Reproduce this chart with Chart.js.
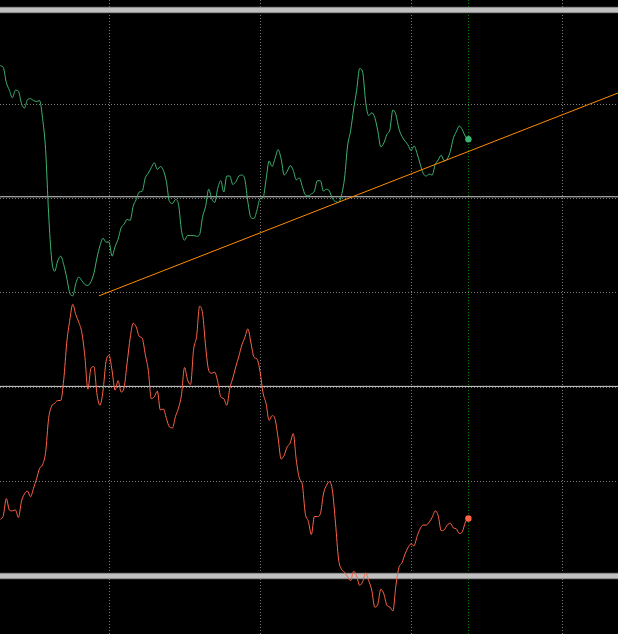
<!DOCTYPE html>
<html>
<head>
<meta charset="utf-8">
<script src="https://cdn.jsdelivr.net/npm/chart.js@4"></script>
<style>
    html, body { margin: 0; padding: 0; background: #000; }
    #wrap { width: 618px; height: 634px; }
</style>
</head>
<body>
<div id="wrap"><canvas id="chart"></canvas></div>
<script>
// ========================================
// DATA
// ========================================
const greenValues = [
    2.41, 2.39, 2.23, 2.15, 2.07, 2.15, 2.14, 2.01, 1.96, 2.05,
    2.06, 2.04, 2.03, 2.04, 1.85, 1.52, 0.84, 0.36, 0.23, 0.34,
    0.39, 0.30, 0.16, 0.00, -0.03, 0.10, 0.17, 0.13, 0.09, 0.08,
    0.12, 0.21, 0.37, 0.50, 0.58, 0.54, 0.54, 0.39, 0.49, 0.57,
    0.69, 0.73, 0.78, 0.77, 0.92, 0.99, 1.07, 1.08, 1.22, 1.27,
    1.33, 1.38, 1.31, 1.34, 1.30, 1.18, 0.97, 0.95, 0.99, 0.94,
    0.66, 0.56, 0.61, 0.61, 0.61, 0.60, 0.62, 0.81, 0.92, 1.10,
    1.00, 0.96, 1.11, 1.19, 1.07, 1.24, 1.24, 1.15, 1.18, 1.24,
    1.25, 1.20, 0.96, 0.80, 0.79, 0.88, 1.00, 1.01, 1.20, 1.40,
    1.34, 1.43, 1.52, 1.42, 1.25, 1.29, 1.35, 1.30, 1.20, 1.22,
    1.13, 1.04, 1.03, 1.05, 1.08, 1.19, 1.19, 1.08, 1.10, 1.08,
    1.00, 0.97, 0.96, 1.04, 1.22, 1.56, 1.72, 1.95, 2.15, 2.38,
    2.34, 2.02, 1.88, 1.91, 1.86, 1.72, 1.55, 1.59, 1.68, 1.73,
    1.94, 1.89, 1.74, 1.66, 1.61, 1.57, 1.51, 1.56, 1.48, 1.37,
    1.27, 1.24, 1.26, 1.25, 1.36, 1.41, 1.46, 1.40, 1.42, 1.50,
    1.64, 1.71, 1.77, 1.73, 1.66, 1.63
];

const redValues = [
    -2.40, -2.36, -2.18, -2.30, -2.31, -2.30, -2.38, -2.21, -2.13, -2.10,
    -2.16, -2.07, -1.97, -1.86, -1.82, -1.69, -1.33, -1.20, -1.17, -1.14,
    -1.14, -0.92, -0.53, -0.29, -0.12, -0.23, -0.31, -0.42, -0.67, -1.02,
    -0.80, -0.78, -1.07, -1.19, -1.04, -0.73, -0.66, -0.82, -1.03, -0.93,
    -1.05, -1.00, -0.74, -0.48, -0.32, -0.36, -0.46, -0.48, -0.65, -0.82,
    -1.12, -1.10, -1.04, -1.24, -1.23, -1.33, -1.42, -1.43, -1.31, -1.22,
    -1.08, -0.79, -0.92, -0.97, -0.60, -0.46, -0.14, -0.22, -0.57, -0.82,
    -0.85, -0.84, -0.94, -1.10, -1.12, -1.19, -1.01, -0.90, -0.78, -0.67,
    -0.55, -0.47, -0.38, -0.53, -0.68, -0.70, -0.83, -1.06, -1.17, -1.35,
    -1.30, -1.34, -1.54, -1.76, -1.72, -1.63, -1.59, -1.49, -1.77, -1.96,
    -2.03, -2.34, -2.42, -2.56, -2.37, -2.37, -2.34, -2.13, -2.04, -2.00,
    -2.10, -2.44, -2.82, -2.93, -2.96, -3.01, -3.05, -2.95, -3.00, -3.10,
    -3.06, -2.97, -3.05, -3.15, -3.33, -3.30, -3.14, -3.19, -3.31, -3.33,
    -3.37, -3.10, -2.91, -2.86, -2.77, -2.70, -2.66, -2.68, -2.58, -2.50,
    -2.46, -2.46, -2.43, -2.38, -2.31, -2.36, -2.52, -2.51, -2.46, -2.44,
    -2.49, -2.50, -2.55, -2.53, -2.43, -2.39
];

const levelsGray = [3, -3];
const levelsWhite = [1.02, -0.99];
const gridBars = [36, 86, 136, 186];
const gridLevels = [-3, -2, -1, 0, 1, 2, 3];
const trendStart = [32.7, -0.03];
const trendEnd = [204.54, 2.12];
const xRange = [-0.1, 204.54];
const yRange = [-3.615, 3.106];

// ========================================
// HELPERS
// ========================================
const lastBar = greenValues.length - 1;
const toPoints = arr => arr.map((v, i) => ({ x: i, y: v }));
const hLine = y => [{ x: xRange[0], y: y }, { x: xRange[1], y: y }];

function seriesDataset(values, color) {
    return {
        data: toPoints(values),
        borderColor: color,
        backgroundColor: color,
        borderWidth: 1,
        cubicInterpolationMode: 'monotone',
        pointRadius: ctx => ctx.dataIndex === lastBar ? 3.2 : 0,
        pointBorderWidth: 0,
        order: 1
    };
}

function levelDataset(y, color, width, order) {
    return {
        data: hLine(y),
        borderColor: color,
        borderWidth: width,
        pointRadius: 0,
        order: order
    };
}

const datasets = [
    {
        data: [{ x: trendStart[0], y: trendStart[1] }, { x: trendEnd[0], y: trendEnd[1] }],
        borderColor: '#FF8C00',
        borderWidth: 1,
        pointRadius: 0,
        order: 0
    },
    seriesDataset(greenValues, '#3CB371'),
    seriesDataset(redValues, '#FF6347')
];

levelsWhite.forEach(v => datasets.push(levelDataset(v, '#d4d4d4', 1, 5)));
levelsGray.forEach(v => {
    datasets.push(levelDataset(v, '#c0c0c0', 5, 6));
    datasets.push(levelDataset(v, '#5e5e5e', 6.5, 7));
});

// ========================================
// CHART
// ========================================
new Chart(document.getElementById('chart'), {
    type: 'line',
    data: { datasets: datasets },
    options: {
        responsive: true,
        maintainAspectRatio: false,
        animation: false,
        layout: { padding: 0, autoPadding: false },
        plugins: {
            legend: { display: false },
            tooltip: { enabled: false }
        },
        scales: {
            x: {
                type: 'linear',
                min: xRange[0],
                max: xRange[1],
                afterBuildTicks: axis => {
                    axis.ticks = gridBars.concat([lastBar]).map(v => ({ value: v }));
                },
                ticks: { display: false },
                grid: {
                    drawTicks: false,
                    color: ctx => ctx.tick && ctx.tick.value === lastBar ? '#008000' : '#7a7a7a',
                    lineWidth: 1
                },
                border: { display: false, dash: [1, 2] }
            },
            y: {
                type: 'linear',
                min: yRange[0],
                max: yRange[1],
                afterBuildTicks: axis => {
                    axis.ticks = gridLevels.map(v => ({ value: v }));
                },
                ticks: { display: false },
                grid: {
                    drawTicks: false,
                    color: '#7a7a7a',
                    lineWidth: 1
                },
                border: { display: false, dash: [1, 2] }
            }
        }
    }
});
</script>
</body>
</html>
